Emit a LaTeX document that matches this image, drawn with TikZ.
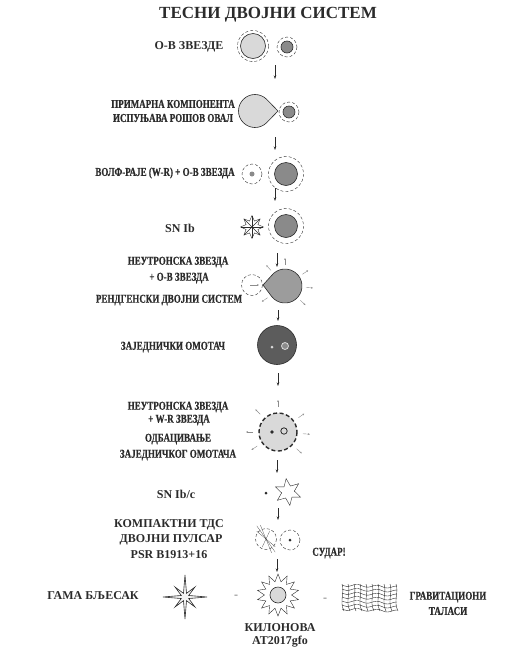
\documentclass[tikz,border=0pt]{standalone}
\usepackage{fontspec}
\setmainfont{Liberation Serif}
\newfontfamily\uskiFont{Liberation Serif}[FakeStretch=0.75, FakeBold=0.6]
\usepackage{tikz}
\usetikzlibrary{arrows.meta, shapes.geometric}
\usepackage{xcolor}
\definecolor{tdsLine}{HTML}{2B2B2B}
\definecolor{tdsLight}{HTML}{D9D9D9}
\definecolor{tdsDark}{HTML}{8A8A8A}
\definecolor{tdsMid}{HTML}{9C9C9C}
\definecolor{tdsEnvelope}{HTML}{5C5C5C}
\definecolor{tdsRay}{HTML}{8C8C8C}

\tikzset{
  oznaka/.style={font=\bfseries\fontsize{12}{14}\selectfont, text=tdsLine, inner sep=0pt},
  uska/.style={font=\uskiFont\bfseries\fontsize{12}{14}\selectfont, text=tdsLine, inner sep=0pt},
  strelica/.style={-{Stealth[length=3.5pt,width=2.5pt]}, tdsLine, semithick},
  zrak/.style={-{Stealth[length=2pt,width=1.8pt]}, tdsRay, thin},
  omotac/.style={draw=tdsLine, dash pattern=on 3pt off 2pt, thin},
  zvezda/.style={draw=tdsLine, semithick},
}

\begin{document}
\begin{tikzpicture}[x=1pt, y=-1pt]
        \useasboundingbox (0,0) rectangle (529,654);
        \node[oznaka, font=\bfseries\fontsize{17}{19}\selectfont] (naslov) at (268,15) {ТЕСНИ ДВОЈНИ СИСТЕМ};

        % Strelice izmedju faza (x, pocetak, kraj)
        \foreach \i/\x/\ya/\yb in {1/275/65/79, 2/275/137/150, 3/275/188/201,
          4/277/253/267, 5/278/310/321, 6/278/373/386, 7/277/460/473,
          8/278/508/520, 9/277/559/572} {
          \coordinate (p\i) at (\x,\ya);
          \coordinate (k\i) at (\x,\yb);
          \draw[strelica] (p\i) -- (k\i);
        }

        % 1: O-B zvezde
        \node[oznaka] (ob) at (189,47) {О-В ЗВЕЗДЕ};
        \filldraw[zvezda, fill=tdsLight] (253,46) circle (12.5);
        \draw[omotac] (253,46) circle (15.5);
        \filldraw[zvezda, fill=tdsDark] (287,47) circle (6);
        \draw[omotac] (287,47) circle (10);

        % 2: Rosov oval
        \node[uska] (rosA) at (173,104) {ПРИМАРНА КОМПОНЕНТА};
        \node[uska] (rosB) at (173,118) {ИСПУЊАВА РОШОВ ОВАЛ};
        \coordinate (c2) at (255,111);
        \filldraw[zvezda, fill=tdsLight] (278,111) -- ([shift={(46:16.5)}]c2)
          arc[start angle=46, end angle=314, radius=16.5] -- cycle;
        \filldraw[zvezda, fill=tdsDark] (289,112) circle (6);
        \draw[omotac] (289,112) circle (10);

        % 3: W-R + O-B
        \node[uska] (wr) at (165,173) {ВОЛФ-РАЈЕ (W-R) + О-В ЗВЕЗДА};
        \draw[omotac] (252,174) circle (10);
        \fill[tdsDark] (252,174) circle (2.5);
        \filldraw[zvezda, fill=tdsDark] (286,174) circle (11.5);
        \draw[omotac] (286,174) circle (17.5);

        % 4: SN Ib
        \node[oznaka] (snib) at (180,228) {SN Ib};
        \node[star, star points=8, star point ratio=1.8, minimum size=23pt,
          draw=tdsLine, fill=white, inner sep=0pt] (eksplozija) at (252,227) {};
        \foreach \a in {0,45,90,135}
          \draw[tdsLine, thin] ([shift={(\a:11)}]eksplozija.center) -- ([shift={(\a+180:11)}]eksplozija.center);
        \filldraw[zvezda, fill=tdsDark] (286,226) circle (11.5);
        \draw[omotac] (286,226) circle (17.5);

        % 5: rendgenski dvojni sistem
        \node[uska] (nsA) at (178,262) {НЕУТРОНСКА ЗВЕЗДА};
        \node[uska] (nsB) at (179,278) {+ О-В ЗВЕЗДА};
        \node[uska] (xray) at (169,300) {РЕНДГЕНСКИ ДВОЈНИ СИСТЕМ};
        \coordinate (c5) at (285,286);
        \draw[omotac] (252,285) circle (10.5);
        \filldraw[zvezda, fill=tdsMid] (263,285) -- ([shift={(141:17)}]c5)
          arc[start angle=141, end angle=-141, radius=17] -- cycle;
        \draw[zrak] (250,285) -- (259,285);
        \foreach \a in {-90,-132,-34,4,43,146}
          \draw[zrak] ([shift={(\a:21)}]c5) -- ([shift={(\a:28)}]c5);

        % 6: zajednicki omotac
        \node[uska] (ce) at (173,347) {ЗАЈЕДНИЧКИ ОМОТАЧ};
        \filldraw[zvezda, fill=tdsEnvelope] (277,345) circle (19.5);
        \fill[tdsLight] (272,347) circle (1.5);
        \filldraw[draw=tdsLight, fill=tdsDark, thick] (285,346) circle (3.5);

        % 7: odbacivanje omotaca
        \node[uska] (nwA) at (178,407) {НЕУТРОНСКА ЗВЕЗДА};
        \node[uska] (nwB) at (179,420) {+ W-R ЗВЕЗДА};
        \node[uska] (odbA) at (178,439) {ОДБАЦИВАЊЕ};
        \node[uska] (odbB) at (178,455) {ЗАЈЕДНИЧКОГ ОМОТАЧА};
        \coordinate (c7) at (278,432);
        \filldraw[fill=tdsLight, draw=tdsLine, line width=1.4pt,
          dash pattern=on 4pt off 2.5pt] (c7) circle (19);
        \fill[tdsLine] (272,432) circle (1.8);
        \filldraw[draw=tdsLine, fill=tdsLight, thick] (284,431) circle (3.2);
        \foreach \a in {-90,-135,-35,180,4,146,42}
          \draw[zrak] ([shift={(\a:25)}]c7) -- ([shift={(\a:32)}]c7);

        % 8: SN Ib/c
        \node[oznaka] (snibc) at (176,494) {SN Ib/c};
        \fill[tdsLine] (266,493) circle (1.5);
        \node[star, star points=6, star point ratio=2.1, minimum size=27pt,
          draw=tdsLine, fill=white, inner sep=0pt, rotate=8] (zvezdica) at (288,492) {};

        % 9: dvojni pulsar
        \node[oznaka] (tdsA) at (169,525) {КОМПАКТНИ ТДС};
        \node[oznaka] (tdsB) at (171,540) {ДВОЈНИ ПУЛСАР};
        \node[oznaka] (tdsC) at (169,555) {PSR B1913+16};
        \coordinate (pulsar) at (266,539);
        \draw[omotac] (pulsar) circle (10.5);
        \foreach \a/\r in {55/16,68/15,115/9,40/12}
          \draw[tdsLine, very thin] ([shift={(\a:\r)}]pulsar) -- ([shift={(\a+180:\r)}]pulsar);
        \draw[omotac] (290,540) circle (10);
        \fill[tdsLine] (290,540) circle (1.5);

        % 10: sudar
        \node[uska] (sudar) at (329,553) {СУДАР!};
        \node[star, star points=14, star point ratio=1.55, minimum size=42pt,
          draw=tdsLine, fill=white, inner sep=0pt] (kilonova) at (278,595) {};
        \filldraw[zvezda, fill=tdsLight] (kilonova.center) circle (8);
        \node[oznaka] (knA) at (280,628) {КИЛОНОВА};
        \node[oznaka] (knB) at (280,642) {AT2017gfo};

        \node[oznaka] (grb) at (93,596) {ГАМА БЉЕСАК};
        \coordinate (gama) at (185,597);
        \filldraw[zvezda, fill=gray!10] ([shift={(0:22)}]gama)
          \foreach \a/\r in {22.5/4,45/14,67.5/4,90/22,112.5/4,135/14,157.5/4,180/22,
            202.5/4,225/14,247.5/4,270/22,292.5/4,315/14,337.5/4} { -- ([shift={(\a:\r)}]gama) } -- cycle;
        \node[oznaka, text=tdsRay] (crtaA) at (236,597) {-};
        \node[oznaka, text=tdsRay] (crtaB) at (325,600) {-};

        % gravitacioni talasi
        \begin{scope}[shift={(342,585)}]
          \foreach \k in {0,...,6}
            \draw[tdsLine, thin] plot[domain=0:55, samples=25, smooth] (\x, {\k*4 + 1.2*sin(\x*18) + 0.04*\x});
          \foreach \k in {0,...,9}
            \draw[tdsLine, thin] (\k*6,-1) .. controls (\k*6+3,8) and (\k*6-3,16) .. (\k*6+2,26);
        \end{scope}
        \node[uska] (gwA) at (448,597) {ГРАВИТАЦИОНИ};
        \node[uska] (gwB) at (448,611) {ТАЛАСИ};
      \end{tikzpicture}
\end{document}
